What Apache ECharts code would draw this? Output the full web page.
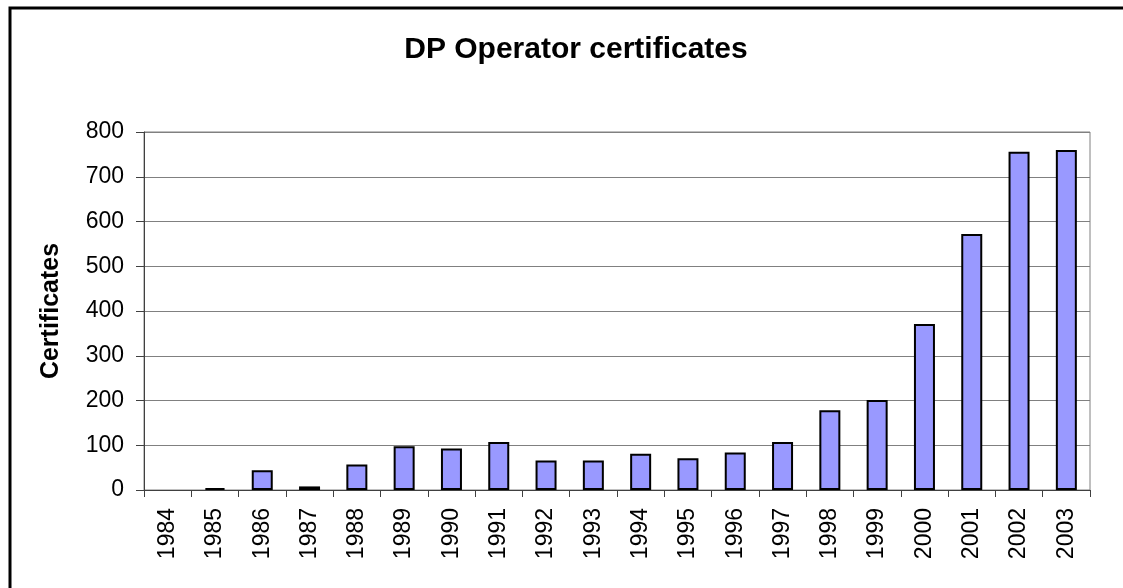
<!DOCTYPE html>
<html>
<head>
<meta charset="utf-8">
<script src="https://cdn.jsdelivr.net/npm/echarts@6/dist/echarts.min.js"></script>
<style>
html,body{margin:0;padding:0;background:#fff;}
#chart{width:1123px;height:588px;}
</style>
</head>
<body>
<div id="chart"></div>
<script>
const years = ['1984','1985','1986','1987','1988','1989','1990','1991','1992','1993','1994','1995','1996','1997','1998','1999','2000','2001','2002','2003'];
const certificates = [0,4,44,8,57,98,93,107,66,66,81,71,84,107,178,201,371,572,756,760];
const yTicks = {min:0, max:800, interval:100};
const titleText = 'DP Operator certificates';
const yName = 'Certificates';

const barData = certificates.map(v => v === 0 ? {value:v, itemStyle:{borderWidth:0}} : v);

const chart = echarts.init(document.getElementById('chart'));
chart.setOption({
  animation:false,
  backgroundColor:'#ffffff',
  title:{
    text:titleText,
    left:571, top:30, textAlign:'center',
    textStyle:{fontFamily:'Liberation Sans, Arial, sans-serif',fontWeight:'bold',fontSize:30,color:'#000'}
  },
  graphic:[{
    type:'rect', silent:true,
    shape:{x:10,y:8,width:1200,height:1000},
    style:{fill:'none',stroke:'#000',lineWidth:3}
  }],
  grid:{left:144,right:33,top:132,bottom:98,show:true,borderColor:'#808080',borderWidth:1},
  xAxis:{
    type:'category', data:years, boundaryGap:true,
    axisLine:{lineStyle:{color:'#404040',width:1}},
    axisTick:{show:true,alignWithLabel:false,length:7,lineStyle:{color:'#404040'}},
    axisLabel:{rotate:90,margin:18,fontFamily:'Liberation Sans, Arial, sans-serif',fontSize:23,color:'#000',interval:0}
  },
  yAxis:{
    type:'value', min:yTicks.min, max:yTicks.max, interval:yTicks.interval,
    name:yName, nameLocation:'middle', nameGap:80, nameRotate:90,
    nameTextStyle:{fontFamily:'Liberation Sans, Arial, sans-serif',fontWeight:'bold',fontSize:25,color:'#000'},
    axisLine:{show:true,lineStyle:{color:'#404040',width:1}},
    axisTick:{show:true,length:8,inside:false,lineStyle:{color:'#404040'}},
    axisLabel:{margin:20,fontFamily:'Liberation Sans, Arial, sans-serif',fontSize:23,color:'#000'},
    splitLine:{show:true,lineStyle:{color:'#808080',width:1}}
  },
  series:[{
    type:'bar', data:barData, barWidth:21,
    itemStyle:{color:'#9999ff',borderColor:'#000',borderWidth:2}
  }]
});
</script>
</body>
</html>
